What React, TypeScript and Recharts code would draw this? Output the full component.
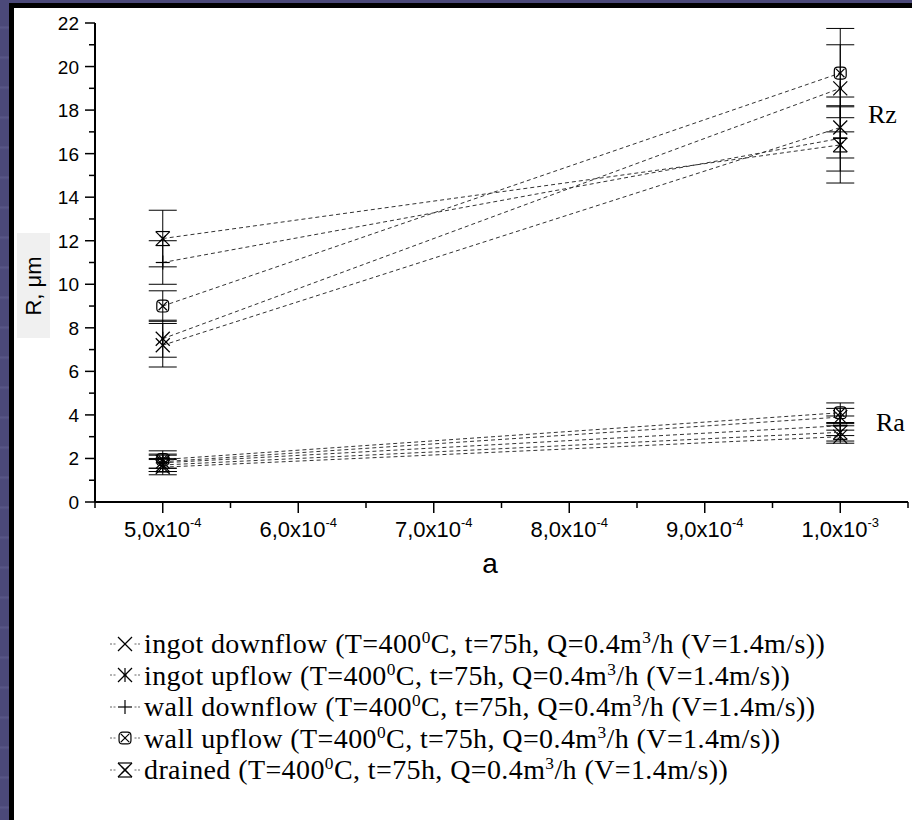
import React from "react"
import { ComposedChart, Scatter, ErrorBar, XAxis, YAxis } from "recharts"

// x positions (a)
const xValues = [5.0e-4, 1.0e-3]

const seriesNames = ["ingot downflow", "ingot upflow", "wall downflow", "wall upflow", "drained"]
const seriesMarkers = ["cross", "star", "plus", "circleCross", "hourglass"]

// Rz group
const rzAtLow = [7.2, 7.5, 11.0, 9.0, 12.1]
const rzAtHigh = [17.2, 19.0, 16.7, 19.7, 16.4]
const rzErrLow = [1.0, 0.85, 1.0, 0.7, 1.3]
const rzErrHigh = [1.4, 2.0, 1.5, 2.05, 1.75]

// Ra group
const raAtLow = [1.6, 1.85, 1.8, 1.95, 1.7]
const raAtHigh = [3.0, 3.9, 3.5, 4.1, 3.2]
const raErrLow = [0.35, 0.3, 0.4, 0.4, 0.3]
const raErrHigh = [0.3, 0.4, 0.45, 0.45, 0.4]

// axes
const xMajorTicks = [5.0e-4, 6.0e-4, 7.0e-4, 8.0e-4, 9.0e-4, 1.0e-3]
const xMinorTicks = [4.5e-4, 5.5e-4, 6.5e-4, 7.5e-4, 8.5e-4, 9.5e-4, 1.05e-3]
const xTickMantissa = ["5,0", "6,0", "7,0", "8,0", "9,0", "1,0"]
const xTickExponent = ["-4", "-4", "-4", "-4", "-4", "-3"]
const yMajorTicks = [0, 2, 4, 6, 8, 10, 12, 14, 16, 18, 20, 22]
const yMinorTicks = [1, 3, 5, 7, 9, 11, 13, 15, 17, 19, 21]

const allXTicks = [...xMajorTicks, ...xMinorTicks].sort((a, b) => a - b)
const allYTicks = [...yMajorTicks, ...yMinorTicks].sort((a, b) => a - b)

const pair = (lo: number[], hi: number[], eLo: number[], eHi: number[], i: number) => [
  { x: xValues[0], y: lo[i], err: eLo[i] },
  { x: xValues[1], y: hi[i], err: eHi[i] },
]

const SANS = "'Liberation Sans', Arial, sans-serif"
const SERIF = "'Liberation Serif', 'Times New Roman', serif"

function MarkerGlyph({ kind, cx, cy, r = 7 }: { kind: string; cx: number; cy: number; r?: number }) {
  const s = { stroke: "#000", strokeWidth: 1.2, fill: "none" }
  const diag = (k: number) => (
    <>
      <line x1={cx - r * k} y1={cy - r * k} x2={cx + r * k} y2={cy + r * k} {...s} />
      <line x1={cx - r * k} y1={cy + r * k} x2={cx + r * k} y2={cy - r * k} {...s} />
    </>
  )
  switch (kind) {
    case "cross":
      return <g>{diag(1)}</g>
    case "star":
      return (
        <g>
          {diag(1)}
          <line x1={cx} y1={cy - r} x2={cx} y2={cy + r} {...s} />
          <circle cx={cx} cy={cy} r={1.5} fill="#000" />
        </g>
      )
    case "plus":
      return (
        <g>
          <line x1={cx - r} y1={cy} x2={cx + r} y2={cy} {...s} />
          <line x1={cx} y1={cy - r} x2={cx} y2={cy + r} {...s} />
        </g>
      )
    case "circleCross":
      return (
        <g>
          <rect x={cx - r * 0.85} y={cy - r * 0.85} width={r * 1.7} height={r * 1.7} rx={r * 0.5} {...s} />
          {diag(0.6)}
        </g>
      )
    default:
      return (
        <g>
          {diag(1)}
          <line x1={cx - r} y1={cy - r} x2={cx + r} y2={cy - r} {...s} />
          <line x1={cx - r} y1={cy + r} x2={cx + r} y2={cy + r} {...s} />
          {diag(0.45)}
        </g>
      )
  }
}

const XTick = (props: any) => {
  const { x, y, payload } = props
  const idx = xMajorTicks.indexOf(payload.value)
  if (idx < 0) return <line x1={x} y1={y} x2={x} y2={y + 6} stroke="#000" strokeWidth={1.5} />
  return (
    <g>
      <line x1={x} y1={y} x2={x} y2={y + 11} stroke="#000" strokeWidth={1.5} />
      <text x={x} y={y + 35} textAnchor="middle" fontFamily={SANS} fontSize={22} fill="#000">
        <tspan>{xTickMantissa[idx]}x10</tspan>
        <tspan dy={-10} fontSize={13}>{xTickExponent[idx]}</tspan>
      </text>
    </g>
  )
}

const YTick = (props: any) => {
  const { x, y, payload } = props
  const major = yMajorTicks.includes(payload.value)
  return (
    <g>
      <line x1={x} y1={y} x2={x - (major ? 10 : 6)} y2={y} stroke="#000" strokeWidth={1.5} />
      {major && (
        <text x={x - 16} y={y + 7} textAnchor="end" fontFamily={SANS} fontSize={19} fill="#000">
          {payload.value}
        </text>
      )}
    </g>
  )
}

const lineStyle = { stroke: "#333", strokeWidth: 1, strokeDasharray: "4 3" }

const supStyle = { fontSize: "0.62em", lineHeight: 0, verticalAlign: "0.6em" }

function Conditions() {
  return (
    <>
      (T=400<span style={supStyle}>0</span>C, t=75h, Q=0.4m<span style={supStyle}>3</span>/h (V=1.4m/s))
    </>
  )
}

export default function App() {
  return (
    <div
      style={{
        position: "absolute",
        left: 0,
        top: 0,
        width: 912,
        height: 820,
        overflow: "hidden",
        background:
          "repeating-linear-gradient(180deg, #4b4979 0px, #4b4979 26px, #5a5889 27px, #4b4979 30px)",
      }}
    >
      <div
        style={{
          position: "absolute",
          left: 9,
          top: 3,
          right: 0,
          bottom: 0,
          background: "#fff",
          borderLeft: "5px solid #000",
          borderTop: "5px solid #000",
        }}
      />
      <div style={{ position: "absolute", left: 0, top: 0 }}>
        <ComposedChart width={912} height={600} margin={{ top: 23, right: 4, bottom: 38, left: 0 }}>
          <XAxis
            type="number"
            dataKey="x"
            domain={[4.5e-4, 1.05e-3]}
            ticks={allXTicks}
            interval={0}
            tick={<XTick />}
            tickLine={false}
            tickSize={0}
            tickMargin={0}
            height={60}
            axisLine={{ stroke: "#000", strokeWidth: 2 }}
            allowDataOverflow
          />
          <YAxis
            type="number"
            dataKey="y"
            domain={[0, 22]}
            ticks={allYTicks}
            interval={0}
            tick={<YTick />}
            tickLine={false}
            tickSize={0}
            tickMargin={0}
            width={95}
            axisLine={{ stroke: "#000", strokeWidth: 2 }}
            allowDataOverflow
          />
          {seriesNames.map((name, i) => (
            <Scatter
              key={"rz" + name}
              name={name}
              data={pair(rzAtLow, rzAtHigh, rzErrLow, rzErrHigh, i)}
              line={lineStyle}
              isAnimationActive={false}
              shape={(p: any) => <MarkerGlyph kind={seriesMarkers[i]} cx={p.cx} cy={p.cy} />}
            >
              <ErrorBar dataKey="err" direction="y" width={14} stroke="#000" strokeWidth={1} />
            </Scatter>
          ))}
          {seriesNames.map((name, i) => (
            <Scatter
              key={"ra" + name}
              name={name}
              data={pair(raAtLow, raAtHigh, raErrLow, raErrHigh, i)}
              line={lineStyle}
              isAnimationActive={false}
              shape={(p: any) => <MarkerGlyph kind={seriesMarkers[i]} cx={p.cx} cy={p.cy} />}
            >
              <ErrorBar dataKey="err" direction="y" width={14} stroke="#000" strokeWidth={1} />
            </Scatter>
          ))}
        </ComposedChart>
      </div>

      {/* y axis title */}
      <div
        style={{
          position: "absolute",
          left: 17,
          top: 233,
          width: 33,
          height: 105,
          background: "#f0f0f0",
          display: "flex",
          alignItems: "center",
          justifyContent: "center",
        }}
      >
        <div
          style={{
            transform: "rotate(-90deg)",
            whiteSpace: "nowrap",
            fontFamily: SANS,
            fontSize: 22,
            color: "#000",
          }}
        >
          R, μm
        </div>
      </div>

      {/* x axis title */}
      <div
        style={{
          position: "absolute",
          left: 470,
          top: 548,
          width: 40,
          textAlign: "center",
          fontFamily: SANS,
          fontSize: 28,
          color: "#000",
        }}
      >
        a
      </div>

      <div style={{ position: "absolute", left: 868, top: 100, fontFamily: SERIF, fontSize: 26, color: "#000" }}>Rz</div>
      <div style={{ position: "absolute", left: 876, top: 408, fontFamily: SERIF, fontSize: 26, color: "#000" }}>Ra</div>

      {/* legend */}
      <div
        style={{
          position: "absolute",
          left: 110,
          top: 628,
          fontFamily: SERIF,
          fontSize: 28,
          lineHeight: "31px",
          letterSpacing: 0.4,
          color: "#000",
        }}
      >
        {seriesNames.map((name, i) => (
          <div key={name} style={{ display: "flex", alignItems: "center", height: 31.5, whiteSpace: "nowrap" }}>
            <svg width={30} height={20} style={{ marginRight: 4 }}>
              <line x1={0} y1={10} x2={30} y2={10} stroke="#666" strokeWidth={1} strokeDasharray="2 1.5" />
              <rect x={7} y={1} width={16} height={18} fill="#fff" />
              <MarkerGlyph kind={seriesMarkers[i]} cx={15} cy={10} r={7} />
            </svg>
            <span>
              {name} <Conditions />
            </span>
          </div>
        ))}
      </div>
    </div>
  )
}
